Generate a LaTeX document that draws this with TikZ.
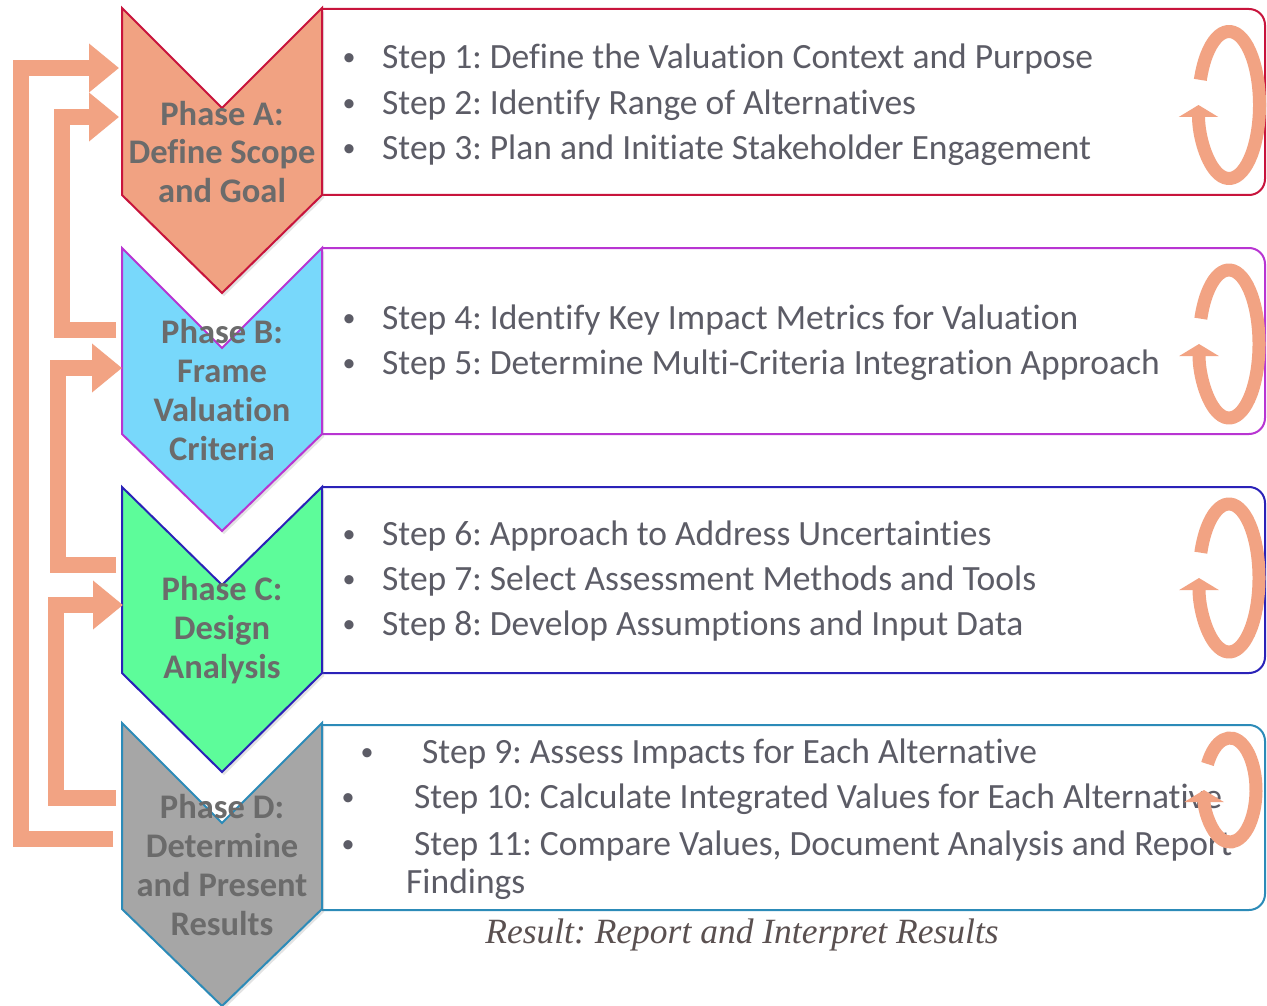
\documentclass[tikz,border=0pt]{standalone}
\usepackage{fontspec}
\setmainfont[Ligatures=NoCommon]{Carlito}
\newfontfamily\resfont{Liberation Serif}
\usetikzlibrary{arrows.meta,shadows}
\frenchspacing
\definecolor{salmon}{HTML}{F2A383}
\definecolor{fillA}{HTML}{F1A282}
\definecolor{fillB}{HTML}{78D8FB}
\definecolor{fillC}{HTML}{5DFC9A}
\definecolor{fillD}{HTML}{A6A6A6}
\definecolor{lineA}{HTML}{C8143C}
\definecolor{lineB}{HTML}{B835D2}
\definecolor{lineC}{HTML}{2A22B8}
\definecolor{lineD}{HTML}{2C8BB8}
\definecolor{phasegray}{HTML}{6B6B6B}
\definecolor{steptxt}{HTML}{5C5C66}
\definecolor{restxt}{HTML}{5A5050}
\begin{document}
\begin{tikzpicture}[x=1pt,y=1pt,
  chevshape/.style={line width=2pt, line join=miter,
     drop shadow={opacity=0.22, shadow xshift=2pt, shadow yshift=-3pt}},
  boxline/.style={line width=2pt, rounded corners=16pt, fill=white},
  phasetxt/.style={align=center, text=phasegray, inner sep=0pt,
     font=\fontsize{34.5}{38.7}\selectfont\bfseries\frenchspacing},
  steptext/.style={anchor=base west, inner sep=0pt, text=steptxt,
     font=\fontsize{35.5}{40}\selectfont\frenchspacing},
  bullet/.style={anchor=base, inner sep=0pt, text=steptxt,
     font=\fontsize{26}{30}\selectfont},
  feedback/.style={draw=salmon, line width=16pt, line join=miter,
     -{Triangle[length=30pt,width=47pt]}},
  loop/.style={draw=salmon, line width=13pt,
     -{Triangle[length=12pt,width=39pt]}}
]
\useasboundingbox[fill=white] (0,0) rectangle (1267,-1006);

% boxes first (white), then chevrons on top
\draw[boxline, draw=lineA] (322,-9) -- (1265,-9) -- (1265,-195) -- (322,-195);
\draw[boxline, draw=lineB] (322,-248) -- (1265,-248) -- (1265,-434) -- (322,-434);
\draw[boxline, draw=lineC] (322,-487) -- (1265,-487) -- (1265,-673) -- (322,-673);
\draw[boxline, draw=lineD] (322,-725) -- (1265,-725) -- (1265,-910) -- (322,-910);

\path[chevshape, fill=fillA, draw=lineA] (122,-8) -- (222,-108) -- (322,-8)
    -- (322,-195) -- (222,-293) -- (122,-195) -- cycle;
\path[chevshape, fill=fillB, draw=lineB] (122,-248) -- (222,-348) -- (322,-248)
    -- (322,-434) -- (222,-531) -- (122,-434) -- cycle;
\path[chevshape, fill=fillC, draw=lineC] (122,-487) -- (222,-585) -- (322,-487)
    -- (322,-673) -- (222,-772) -- (122,-673) -- cycle;
\path[chevshape, fill=fillD, draw=lineD] (122,-723) -- (222,-823) -- (322,-723)
    -- (322,-909) -- (222,-1006) -- (122,-909) -- cycle;

% phase labels
\node[phasetxt] (pA) at (222,-152) {Phase A:\\Define Scope\\and Goal};
\node[phasetxt] (pB) at (222,-390) {Phase B:\\Frame\\Valuation\\Criteria};
\node[phasetxt] (pC) at (222,-630) {Phase C:\\Design\\Analysis};
\node[phasetxt] (pD) at (222,-865) {Phase D:\\Determine\\and Present\\Results};

% steps
\node[bullet] (bA1) at (349,-66) {\textbullet};
\node[steptext] (sA1) at (382,-69) {Step 1: Define the Valuation Context and Purpose};
\node[bullet] (bA2) at (349,-112) {\textbullet};
\node[steptext] (sA2) at (382,-115) {Step 2: Identify Range of Alternatives};
\node[bullet] (bA3) at (349,-157) {\textbullet};
\node[steptext] (sA3) at (382,-160) {Step 3: Plan and Initiate Stakeholder Engagement};

\node[bullet] (bB1) at (349,-326) {\textbullet};
\node[steptext] (sB1) at (382,-329) {Step 4: Identify Key Impact Metrics for Valuation};
\node[bullet] (bB2) at (349,-371) {\textbullet};
\node[steptext] (sB2) at (382,-374) {Step 5: Determine Multi-Criteria Integration Approach};

\node[bullet] (bC1) at (349,-542) {\textbullet};
\node[steptext] (sC1) at (382,-545) {Step 6: Approach to Address Uncertainties};
\node[bullet] (bC2) at (349,-587) {\textbullet};
\node[steptext] (sC2) at (382,-590) {Step 7: Select Assessment Methods and Tools};
\node[bullet] (bC3) at (349,-632) {\textbullet};
\node[steptext] (sC3) at (382,-635) {Step 8: Develop Assumptions and Input Data};

\node[bullet] (bD1) at (367,-760) {\textbullet};
\node[steptext] (sD1) at (422,-763) {Step 9: Assess Impacts for Each Alternative};
\node[bullet] (bD2) at (348,-805) {\textbullet};
\node[steptext] (sD2) at (414,-808) {Step 10: Calculate Integrated Values for Each Alternative};
\node[bullet] (bD3) at (348,-852) {\textbullet};
\node[steptext] (sD3) at (414,-855) {Step 11: Compare Values, Document Analysis and Report};
\node[steptext] (sD4) at (406,-893) {Findings};

\node[anchor=base, inner sep=0pt, text=restxt, font=\resfont\itshape\fontsize{35.5}{40}\selectfont\frenchspacing]
  (res) at (742,-943) {Result: Report and Interpret Results};

% feedback arrows
\coordinate (dOut1) at (113,-839);
\coordinate (aIn1) at (119,-68);
\coordinate (bOut) at (116,-330);
\coordinate (aIn2) at (119,-117);
\coordinate (cOut) at (116,-565);
\coordinate (bIn) at (122,-368);
\coordinate (dOut2) at (116,-798);
\coordinate (cIn) at (123,-605);
\draw[feedback] (dOut1) -- (21,-839) -- (21,-68) -- (aIn1);
\draw[feedback] (bOut) -- (62,-330) -- (62,-117) -- (aIn2);
\draw[feedback] (cOut) -- (58,-565) -- (58,-368) -- (bIn);
\draw[feedback] (dOut2) -- (56,-798) -- (56,-605) -- (cIn);

% iteration loops
\draw[loop] (1229,-105) ++(160:30.5 and 73.5) arc[start angle=160, end angle=-180, x radius=30.5, y radius=73.5];
\draw[loop] (1229,-344) ++(160:30 and 74) arc[start angle=160, end angle=-180, x radius=30, y radius=74];
\draw[loop] (1229,-578) ++(160:30 and 74) arc[start angle=160, end angle=-180, x radius=30, y radius=74];
\draw[loop] (1230,-790) ++(150:26 and 52) arc[start angle=150, end angle=-180, x radius=26, y radius=52];
\end{tikzpicture}
\end{document}
